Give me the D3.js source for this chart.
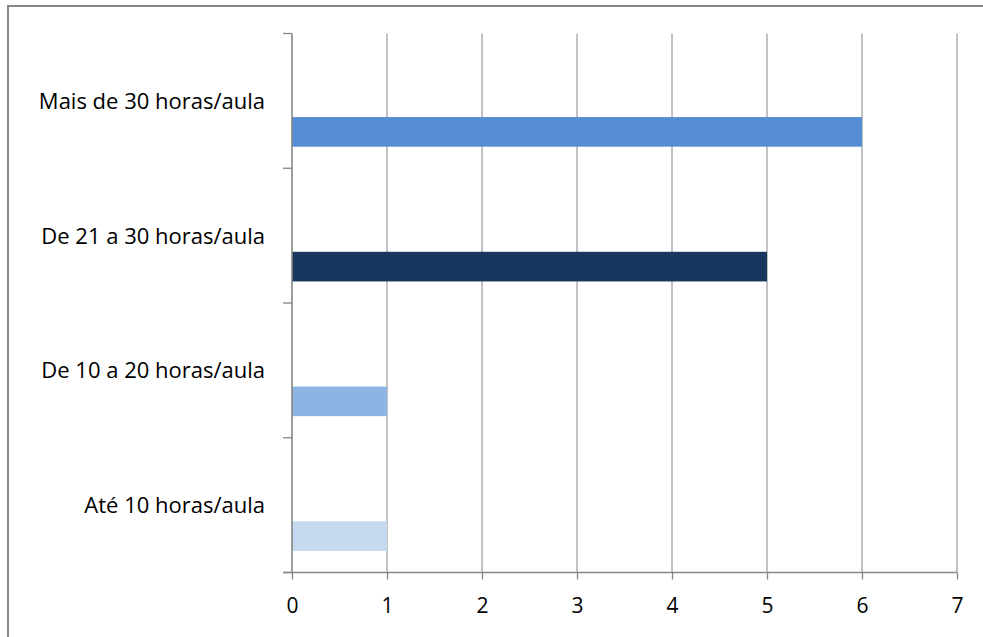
<!DOCTYPE html>
<html>
<head>
<meta charset="utf-8">
<script src="https://cdn.jsdelivr.net/npm/d3@7"></script>
<style>
  body { margin: 0; background: #fff; }
  svg { display: block; font-family: "Open Sans", Lato, sans-serif; }
</style>
</head>
<body>
<script>
// Data
const categories = ['Mais de 30 horas/aula', 'De 21 a 30 horas/aula', 'De 10 a 20 horas/aula', 'Até 10 horas/aula']
const values = [6, 5, 1, 1]
const colors = ['#558ED5', '#17375E', '#8EB4E3', '#C6D9F1']
const xTicks = [0, 1, 2, 3, 4, 5, 6, 7]

const W = 983, H = 637
const plot = { left: 292, right: 957, top: 33.5, bottom: 572.5 }

const svg = d3.select('body').append('svg')
  .attr('width', W)
  .attr('height', H)

// outer frame
svg.append('rect')
  .attr('x', 8).attr('y', 6)
  .attr('width', W + 10).attr('height', H + 10)
  .attr('fill', 'none')
  .attr('stroke', '#868686')
  .attr('stroke-width', 2)

// Scales
const x = d3.scaleLinear().domain([0, 7]).range([plot.left, plot.right])
const y = d3.scaleBand().domain(categories).range([plot.top, plot.bottom])

// gridlines
svg.append('g').selectAll('line')
  .data(xTicks.slice(1))
  .enter().append('line')
  .attr('x1', d => x(d)).attr('x2', d => x(d))
  .attr('y1', plot.top).attr('y2', plot.bottom)
  .attr('stroke', '#868686')
  .attr('stroke-width', 1)

// bars (sit in lower part of each band, like Excel's series slot)
const barTop = 0.62, barH = 0.22
svg.append('g').selectAll('rect')
  .data(categories)
  .enter().append('rect')
  .attr('x', x(0))
  .attr('y', d => y(d) + y.bandwidth() * barTop)
  .attr('width', (d, i) => x(values[i]) - x(0))
  .attr('height', y.bandwidth() * barH)
  .attr('fill', (d, i) => colors[i])

// x axis
const xAxis = d3.axisBottom(x).tickValues(xTicks).tickFormat(d3.format('d'))
  .tickSize(7).tickPadding(19).tickSizeOuter(0)
const gx = svg.append('g')
  .attr('transform', `translate(0, ${plot.bottom})`)
  .call(xAxis)
gx.select('.domain').attr('stroke', '#868686').attr('stroke-width', 1.6)
  .attr('d', `M${plot.left - 9},0H${plot.right}`)
gx.selectAll('.tick line').attr('stroke', '#868686').attr('stroke-width', 1.3)
gx.selectAll('.tick text').attr('font-size', 21).attr('fill', '#000')
  .style('font-family', '"Open Sans", sans-serif')

// y axis
const tickYs = categories.map(c => y(c)).concat([plot.bottom])
const gy = svg.append('g')
gy.append('line')
  .attr('x1', plot.left).attr('x2', plot.left)
  .attr('y1', plot.top).attr('y2', plot.bottom)
  .attr('stroke', '#868686').attr('stroke-width', 1.6)
gy.selectAll('.ytick')
  .data(tickYs)
  .enter().append('line')
  .attr('x1', plot.left - 9).attr('x2', plot.left)
  .attr('y1', d => d).attr('y2', d => d)
  .attr('stroke', '#868686').attr('stroke-width', 1.3)
gy.selectAll('text')
  .data(categories)
  .enter().append('text')
  .attr('x', 265)
  .attr('y', d => y(d) + y.bandwidth() / 2 + 2)
  .attr('text-anchor', 'end')
  .attr('dominant-baseline', 'middle')
  .attr('font-size', 22)
  .attr('fill', '#000')
  .text(d => d)
</script>
</body>
</html>
